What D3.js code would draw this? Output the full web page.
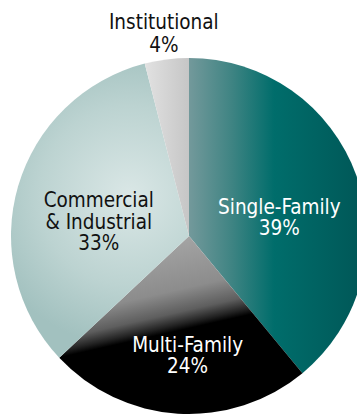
<!DOCTYPE html>
<html>
<head>
<meta charset="utf-8">
<script src="https://cdn.jsdelivr.net/npm/d3@7"></script>
<style>
  body { margin: 0; background: #fff; }
  svg { display: block; }
</style>
</head>
<body>
<div id="chart"></div>
<script>
var w = 357;
var h = 416;

// data, clockwise from 12 o'clock
var categories = ["Single-Family", "Multi-Family", "Commercial & Industrial", "Institutional"];
var values = [39, 24, 33, 4];
var labelLines = [["Single-Family"], ["Multi-Family"], ["Commercial", "& Industrial"], ["Institutional"]];

var cx = 189, cy = 236, r = 178;

var svg = d3.select("#chart").append("svg").attr("width", w).attr("height", h);
var defs = svg.append("defs");

// fills per slice
function linGrad(id, x1, y1, x2, y2, stops) {
  var g = defs.append("linearGradient").attr("id", id)
    .attr("gradientUnits", "userSpaceOnUse")
    .attr("x1", x1).attr("y1", y1).attr("x2", x2).attr("y2", y2);
  stops.forEach(function(s) { g.append("stop").attr("offset", s[0]).attr("stop-color", s[1]); });
}
function radGrad(id, gx, gy, gr, stops) {
  var g = defs.append("radialGradient").attr("id", id)
    .attr("gradientUnits", "userSpaceOnUse")
    .attr("cx", gx).attr("cy", gy).attr("r", gr);
  stops.forEach(function(s) { g.append("stop").attr("offset", s[0]).attr("stop-color", s[1]); });
}

linGrad("g0", 0, 0, 170, 0, [[0, "#73999b"], [0.25, "#3f8483"], [0.5, "#006d6b"], [1, "#005858"]]);
linGrad("g1", 0, 0, 22, 97.5, [[0, "#a4a4a4"], [0.5, "#8c8c8c"], [0.72, "#5e5e5e"], [0.84, "#222"], [0.9, "#000"], [1, "#000"]]);
radGrad("g2", -60, -40, 150, [[0, "#dae7e6"], [0.6, "#bcd3d1"], [1, "#a2c1bf"]]);
linGrad("g3", -45, 0, 0, 0, [[0, "#e2e2e2"], [1, "#c6c6c6"]]);

var pie = d3.pie().sort(null).value(function(d) { return d; });
var arc = d3.arc().innerRadius(0).outerRadius(r);
var arcs = pie(values);

var g = svg.append("g").attr("transform", "translate(" + cx + "," + cy + ")");

g.selectAll("path.slice")
  .data(arcs)
  .enter().append("path")
  .attr("class", "slice")
  .attr("d", arc)
  .attr("fill", function(d, i) { return "url(#g" + i + ")"; });

// label placement: radius along slice middle, then a small nudge
var place = [
  { rad: 96, dx: 0, dy: 15.5, lh: 21 },
  { rad: 118, dx: 6, dy: 3, lh: 21 },
  { rad: 95, dx: 1, dy: 13, lh: 21.5 },
  { rad: 201, dx: 0, dy: -2.5, lh: 23 }
];
var textCol = ["#fff", "#fff", "#111", "#111"];

arcs.forEach(function(d, i) {
  var a = (d.startAngle + d.endAngle) / 2;
  var p = place[i];
  var x = Math.sin(a) * p.rad + p.dx;
  var y = -Math.cos(a) * p.rad + p.dy;
  var lines = labelLines[i].concat([values[i] + "%"]);
  var top = y - (lines.length - 1) * p.lh / 2;
  var t = g.append("text")
    .attr("text-anchor", "middle")
    .attr("font-family", "DejaVu Sans Condensed, DejaVu Sans")
    .attr("font-stretch", "condensed")
    .attr("font-size", 20.5)
    .attr("fill", textCol[i]);
  lines.forEach(function(l, k) {
    t.append("tspan").attr("x", x).attr("y", top + k * p.lh + 6).text(l);
  });
});
</script>
</body>
</html>
